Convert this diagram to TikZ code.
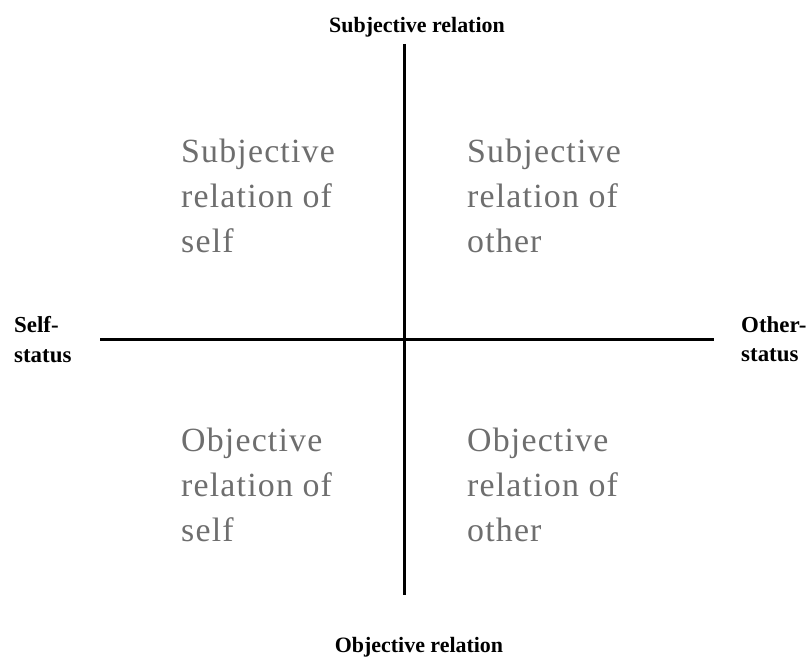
\documentclass[tikz,border=0pt]{standalone}
\usepackage{fontspec}
\setmainfont{Liberation Serif}
\newfontfamily\quadfont[LetterSpace=3.5]{Liberation Serif}
\definecolor{quadgray}{RGB}{110,110,110}
\tikzset{
  axisline/.style={line width=3bp, black},
  quadtext/.style={anchor=north west, inner sep=0pt, align=left, text=quadgray,
    font=\quadfont\fontsize{34}{45}\selectfont},
  axislabel/.style={anchor=base, inner sep=0pt, font=\fontsize{22}{28}\selectfont\bfseries},
  sidelabel/.style={anchor=north west, inner sep=0pt, align=left,
    font=\fontsize{23}{30}\selectfont\bfseries}
}
\begin{document}
\begin{tikzpicture}[x=1bp,y=-1bp]
\useasboundingbox (0,0) rectangle (810,659);
\coordinate (vt) at (404,44);
\coordinate (vb) at (404,595);
\coordinate (hl) at (100,339);
\coordinate (hr) at (714,339);
\draw[axisline] (vt) -- (vb);
\draw[axisline] (hl) -- (hr);
\node[axislabel] (subj) at (417,33) {Subjective relation};
\node[axislabel] (obj) at (419,652) {Objective relation};
\node[sidelabel] (self) at (14,316) {Self-\\status};
\node[sidelabel] (other) at (741,316) {Other-\\status};
\node[quadtext] (tl) at (181,139) {Subjective\\relation of\\self};
\node[quadtext] (tr) at (467,139) {Subjective\\relation of\\other};
\node[quadtext] (bl) at (181,428) {Objective\\relation of\\self};
\node[quadtext] (br) at (467,428) {Objective\\relation of\\other};
\end{tikzpicture}
\end{document}
